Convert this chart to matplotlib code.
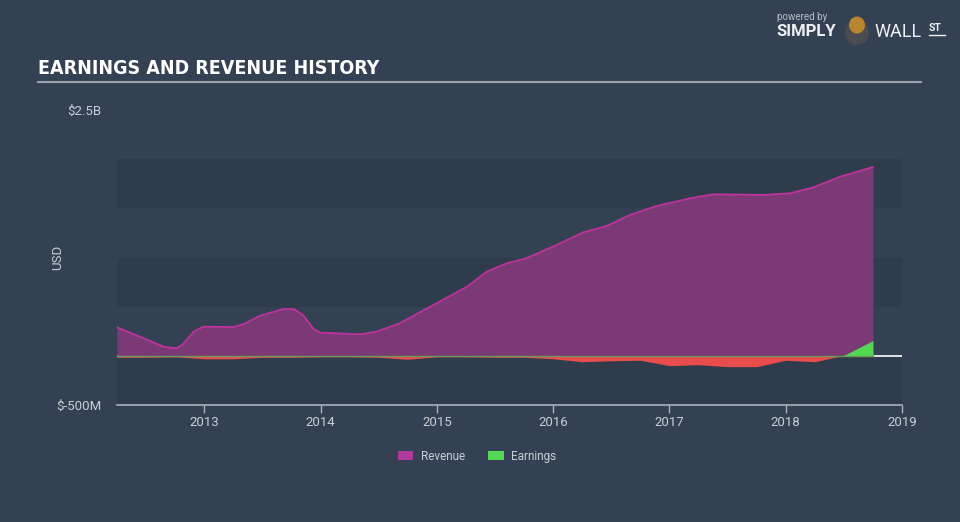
#!/usr/bin/env python3
"""Earnings and revenue history chart (Simply Wall St style)."""
import matplotlib
matplotlib.use("Agg")
import matplotlib.pyplot as plt
from matplotlib import font_manager
from matplotlib.patches import Patch, Ellipse

# revenue in $M (decimal years)
rev_dates = [2012.25, 2012.48, 2012.65, 2012.76, 2012.81, 2012.91, 2012.99,
             2013.25, 2013.34, 2013.48, 2013.68, 2013.77, 2013.85, 2013.94,
             2014.0, 2014.34, 2014.48, 2014.68, 2014.97, 2015.26, 2015.43,
             2015.6, 2015.77, 2016.03, 2016.26, 2016.46, 2016.66, 2016.89,
             2017.18, 2017.38, 2017.81, 2018.04, 2018.24, 2018.47, 2018.75]
revenue = [290, 178, 93, 76, 110, 245, 296,
           293, 323, 408, 476, 476, 415, 273,
           235, 219, 245, 330, 517, 703, 856,
           941, 992, 1127, 1256, 1320, 1432, 1524,
           1602, 1643, 1636, 1653, 1714, 1822, 1920]

# quarterly earnings in $M
earn_dates = [2012.25, 2012.5, 2012.75, 2013.0, 2013.25, 2013.5, 2013.75,
              2014.0, 2014.25, 2014.5, 2014.75, 2015.0, 2015.25, 2015.5, 2015.75,
              2016.0, 2016.25, 2016.5, 2016.75, 2017.0, 2017.25, 2017.5, 2017.75,
              2018.0, 2018.25, 2018.5, 2018.75]
earnings = [-15, -15, -10, -30, -30, -15, -15,
            -10, -10, -15, -35, -10, -10, -15, -15,
            -30, -60, -50, -45, -100, -90, -110, -110,
            -45, -60, 5, 155]

year_ticks = [2013, 2014, 2015, 2016, 2017, 2018, 2019]
y_ticks = [2500, -500]
y_labels = ["$2.5B", "$-500M"]
dark_bands = [(1500, 2000), (500, 1000), (-500, 0)]

BG = "#344152"
BAND = "#2f3c4c"
TXT = "#c9ced6"
REV_FILL = "#7b3a76"
REV_LINE = "#c0339e"
EARN_POS = "#55d855"
EARN_NEG = "#e84c4c"

plt.rcParams["font.family"] = ["Roboto", "DejaVu Sans"]


def condensed_font():
    # look for a narrow bold face for the title
    for f in font_manager.fontManager.ttflist:
        fn = f.fname.lower()
        if ("narrow" in fn or "condensed" in fn) and "bold" in fn and "italic" not in fn and "oblique" not in fn:
            return font_manager.FontProperties(fname=f.fname)
    return None


fig = plt.figure(figsize=(9.6, 5.22), dpi=100, facecolor=BG)
W, H = 960, 522
ax = fig.add_axes([117 / W, 1 - 405 / H, 785 / W, 295 / H])
ax.set_facecolor(BG)
ax.set_xlim(2012.25, 2019.0)
ax.set_ylim(-500, 2500)

for lo, hi in dark_bands:
    ax.axhspan(lo, hi, color=BAND, lw=0, zorder=0)

ax.axhline(0, color="white", lw=1.2, zorder=1)

ax.fill_between(rev_dates, 0, revenue, color=REV_FILL, lw=0, zorder=2)
ax.plot(rev_dates, revenue, color=REV_LINE, lw=1.3, zorder=3)

ax.fill_between(earn_dates, 0, earnings, where=[e <= 0 for e in earnings],
                interpolate=True, color=EARN_NEG, lw=0, zorder=4)
ax.fill_between(earn_dates, 0, earnings, where=[e >= 0 for e in earnings],
                interpolate=True, color=EARN_POS, lw=0, zorder=4)
ax.plot([earn_dates[0], earn_dates[-1]], [0, 0], color="#6a9a5a", lw=1.0, zorder=5)

for s in ("top", "right", "left"):
    ax.spines[s].set_visible(False)
ax.spines["bottom"].set_color("#a9b1bd")
ax.spines["bottom"].set_linewidth(1.2)

ax.set_xticks(year_ticks)
ax.set_xticklabels([str(y) for y in year_ticks])
ax.tick_params(axis="x", colors="#a9b1bd", labelcolor=TXT, length=6,
               width=1, labelsize=9.5, pad=2)
ax.set_yticks(y_ticks)
ax.set_yticklabels(y_labels)
ax.tick_params(axis="y", length=0, labelcolor=TXT, labelsize=9.5, pad=11)
ax.set_ylabel("USD", color=TXT, fontsize=9.5)
ax.yaxis.set_label_coords(-53 / 785, 0.5)

# title and rule
fp = condensed_font()
if fp is not None:
    fp.set_size(14)
    fig.text(38 / W, 1 - 68 / H, "EARNINGS AND REVENUE HISTORY", color="white",
             fontproperties=fp, va="center", ha="left")
else:
    fig.text(38 / W, 1 - 68 / H, "EARNINGS AND REVENUE HISTORY", color="white",
             fontsize=11.5, fontweight="bold", va="center", ha="left",
             family=["Roboto", "DejaVu Sans"])
fig.add_artist(plt.Line2D([38 / W, 921 / W], [1 - 82 / H, 1 - 82 / H],
                          color="#9aa1ab", lw=1.5))

# legend
handles = [Patch(facecolor="#b03a9a", edgecolor="none", label="Revenue"),
           Patch(facecolor=EARN_POS, edgecolor="none", label="Earnings")]
fig.legend(handles=handles, loc="center", ncol=2,
           bbox_to_anchor=(477 / W, 1 - 456 / H), frameon=False,
           fontsize=8.5, labelcolor=TXT, handlelength=1.3,
           handleheight=0.9, columnspacing=2.0, handletextpad=0.6)

# logo
fig.text(777 / W, 1 - 17 / H, "powered by", color="#b8bec6", fontsize=7,
         va="center", ha="left")
fig.text(776 / W, 1 - 32 / H, "SIMPLY", color="#eef0f2", fontsize=12,
         fontweight="bold", va="center", ha="left")
fig.add_artist(Ellipse((857 / W, 1 - 33 / H), 24 / W, 24 / H,
                       transform=fig.transFigure, facecolor="#4a4c50",
                       edgecolor="none"))
fig.add_artist(Ellipse((857 / W, 1 - 25 / H), 16 / W, 17 / H,
                       transform=fig.transFigure, facecolor="#b8862e",
                       edgecolor="none"))
fig.text(874 / W, 1 - 32 / H, "WALL", color="#eef0f2", fontsize=13,
         va="center", ha="left")
fig.text(929 / W, 1 - 28 / H, "ST", color="#eef0f2", fontsize=7.5,
         fontweight="bold", va="center", ha="left")
fig.add_artist(plt.Line2D([929 / W, 945 / W], [1 - 35 / H, 1 - 35 / H],
                          color="#eef0f2", lw=1))

fig.savefig("out.png", dpi=100, facecolor=BG)
